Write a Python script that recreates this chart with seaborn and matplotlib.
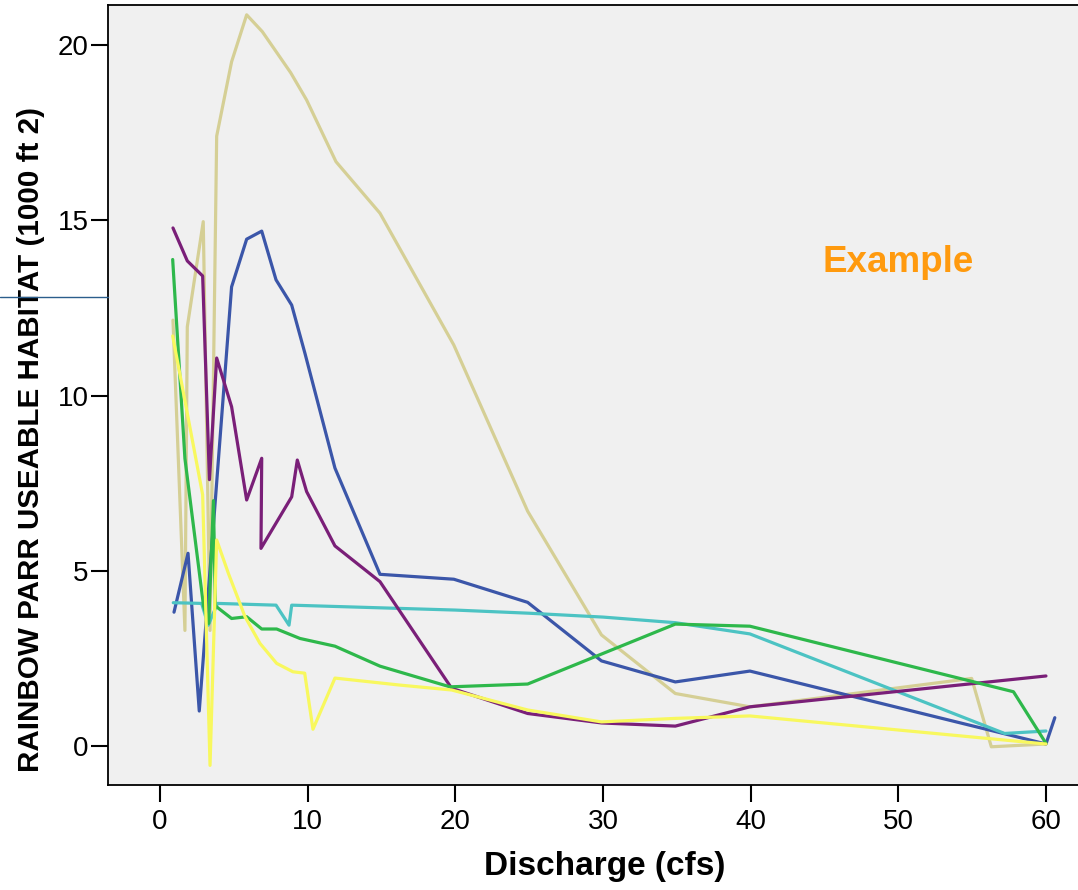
import matplotlib
matplotlib.use("Agg")
import matplotlib.pyplot as plt
import seaborn as sns
import pandas as pd
from matplotlib.lines import Line2D

# ---- data ----
beige_x = [0.88, 1.69, 1.85, 2.93, 3.39, 3.84, 4.85, 5.87, 6.93, 8.85, 9.93, 11.92, 14.9, 19.9, 24.9, 29.9, 34.9, 39.95, 54.97, 56.3, 60.0]
beige_y = [12.15, 3.3, 11.96, 14.96, 3.3, 17.4, 19.52, 20.86, 20.38, 19.21, 18.43, 16.67, 15.2, 11.44, 6.7, 3.17, 1.5, 1.12, 1.93, -0.02, 0.06]

blue_x = [0.95, 1.9, 2.66, 4.85, 5.87, 6.89, 7.86, 8.92, 9.82, 11.85, 14.9, 19.9, 24.9, 29.9, 34.9, 39.95, 60.0, 60.6]
blue_y = [3.82, 5.5, 1.0, 13.1, 14.46, 14.69, 13.3, 12.58, 11.2, 7.93, 4.9, 4.76, 4.1, 2.43, 1.83, 2.14, 0.06, 0.81]

teal_x = [0.9, 2.82, 3.27, 3.9, 7.86, 8.74, 8.92, 20.0, 25.0, 30.0, 34.9, 39.95, 57.2, 60.0]
teal_y = [4.09, 4.07, 3.45, 4.07, 4.02, 3.45, 4.02, 3.88, 3.79, 3.68, 3.52, 3.2, 0.36, 0.43]

purple_x = [0.88, 1.85, 2.89, 3.35, 3.84, 4.85, 5.87, 6.89, 6.84, 8.92, 9.3, 9.93, 11.85, 14.9, 19.75, 24.9, 29.9, 34.9, 39.95, 60.0]
purple_y = [14.78, 13.84, 13.41, 7.6, 11.07, 9.68, 7.02, 8.21, 5.64, 7.11, 8.16, 7.26, 5.71, 4.69, 1.65, 0.93, 0.66, 0.57, 1.12, 2.0]

green_x = [0.86, 1.69, 2.95, 3.3, 3.62, 3.75, 4.85, 5.87, 6.89, 7.9, 9.48, 11.85, 14.9, 19.64, 24.9, 34.9, 39.95, 57.8, 60.0]
green_y = [13.88, 8.2, 4.0, 3.5, 7.0, 4.0, 3.64, 3.69, 3.34, 3.34, 3.07, 2.85, 2.28, 1.69, 1.77, 3.48, 3.42, 1.55, 0.08]

yellow_x = [0.86, 2.89, 3.39, 3.84, 4.63, 5.76, 6.77, 7.9, 9.0, 9.8, 10.36, 11.85, 16.25, 19.75, 24.9, 29.9, 34.9, 39.95, 60.0]
yellow_y = [11.7, 7.17, -0.55, 5.88, 4.93, 3.69, 2.93, 2.36, 2.12, 2.08, 0.48, 1.94, 1.74, 1.6, 1.03, 0.69, 0.79, 0.86, 0.06]

x_ticks = [0, 10, 20, 30, 40, 50, 60]
y_ticks = [0, 5, 10, 15, 20]

series = [
    ("beige", beige_x, beige_y, "#d5cf95"),
    ("blue", blue_x, blue_y, "#3b56a9"),
    ("teal", teal_x, teal_y, "#4cc3c3"),
    ("purple", purple_x, purple_y, "#7a1f78"),
    ("green", green_x, green_y, "#2eb84b"),
    ("yellow", yellow_x, yellow_y, "#f8f85e"),
]

sns.set_theme(style="white")
plt.rcParams["font.family"] = ["Liberation Sans", "DejaVu Sans"]

fig = plt.figure(figsize=(10.78, 8.9), dpi=100)
ax = fig.add_axes([108 / 1078, 1 - 785 / 890, 1 - 108 / 1078, (785 - 5) / 890])
ax.set_facecolor("#f0f0f0")

for name, xs, ys, col in series:
    df = pd.DataFrame({"x": xs, "y": ys})
    sns.lineplot(data=df, x="x", y="y", sort=False, estimator=None,
                 color=col, lw=2.3, ax=ax)

ax.set_xlim(-3.52, 62.17)
ax.set_ylim(-1.11, 21.14)
ax.set_xticks(x_ticks)
ax.set_yticks(y_ticks)
ax.tick_params(axis="both", which="major", direction="out", length=12.5,
               width=1.5, color="black", labelsize=20,
               bottom=True, left=True, labelcolor="black")
ax.tick_params(axis="x", pad=5)
ax.tick_params(axis="y", pad=1.5)
for s in ["left", "bottom", "top"]:
    ax.spines[s].set_visible(True)
    ax.spines[s].set_color("black")
    ax.spines[s].set_linewidth(1.3)
ax.spines["right"].set_visible(False)

ax.set_xlabel("Discharge (cfs)", fontsize=24, fontweight="bold", color="black")
ax.set_ylabel("RAINBOW PARR USEABLE HABITAT (1000 ft 2)", fontsize=21.3,
              fontweight="bold", color="black")
ax.xaxis.set_label_coords((605 - 108) / 970, (785 - 851) / 780)
ax.yaxis.set_label_coords((45 - 108) / 970, (785 - 439) / 780)

ax.text(50.0, 13.8, "Example", color="#ff9a0e", fontsize=26.5,
        fontweight="bold", ha="center", va="center")

# thin rule at left of the plot
fig.add_artist(Line2D([0, 108 / 1078], [1 - 297 / 890, 1 - 297 / 890],
                      color="#2b5e8c", lw=1.0, transform=fig.transFigure))

fig.savefig("out.png", dpi=100)
